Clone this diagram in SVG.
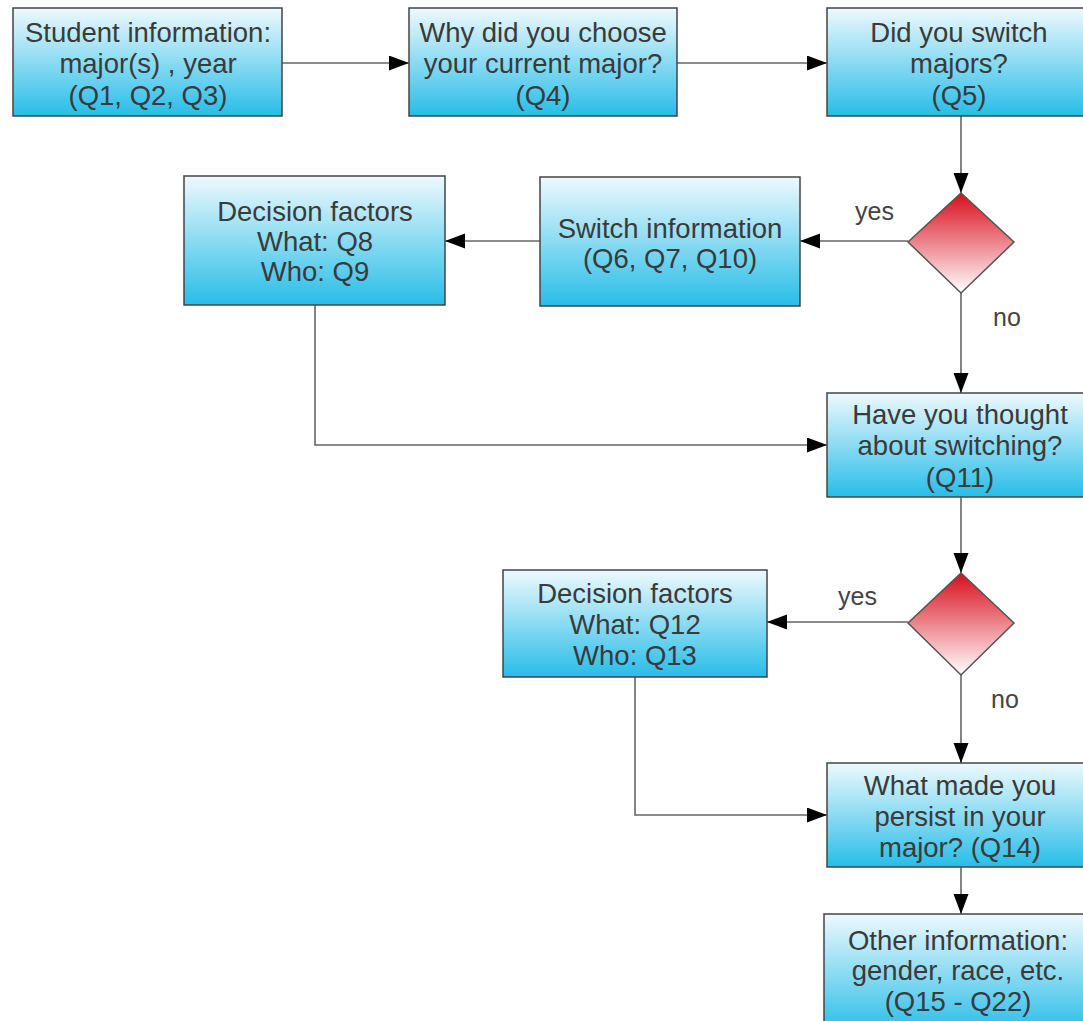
<svg xmlns="http://www.w3.org/2000/svg" width="1083" height="1021" viewBox="0 0 1083 1021">
<defs>
<linearGradient id="gb" x1="0" y1="0" x2="0" y2="1">
<stop offset="0" stop-color="#eef9fd"/>
<stop offset="1" stop-color="#27bde8"/>
</linearGradient>
<linearGradient id="gr" x1="0" y1="0" x2="0" y2="1">
<stop offset="0" stop-color="#d80d1c"/>
<stop offset="1" stop-color="#ffffff"/>
</linearGradient>
<marker id="ah" markerUnits="userSpaceOnUse" markerWidth="22" markerHeight="16" refX="20" refY="7.5" orient="auto">
<path d="M0,0 L20,7.5 L0,15 Z" fill="#000"/>
</marker>
</defs>
<style>
.box{fill:url(#gb);stroke:#444;stroke-width:1.5}
.dia{fill:url(#gr);stroke:#555;stroke-width:1.5}
.t{font-family:"Liberation Sans",Arial,sans-serif;font-size:27.5px;fill:#3a3a3a;text-anchor:middle}
.lbl{font-family:"Liberation Sans",Arial,sans-serif;font-size:25px;fill:#444}
.c{fill:none;stroke:#666;stroke-width:1.6}
.ca{fill:none;stroke:#666;stroke-width:1.6;marker-end:url(#ah)}
</style>
<rect width="1083" height="1021" fill="#fff"/>
<g id="connectors">
<line class="ca" x1="282" y1="63" x2="409" y2="63"/>
<line class="ca" x1="677" y1="63" x2="827" y2="63"/>
<line class="ca" x1="961" y1="116" x2="961" y2="193"/>
<line class="ca" x1="908" y1="241" x2="800" y2="241"/>
<line class="ca" x1="540" y1="241" x2="445" y2="241"/>
<line class="ca" x1="961" y1="293" x2="961" y2="393"/>
<polyline class="ca" points="315,305 315,445 827,445"/>
<line class="ca" x1="961" y1="497" x2="961" y2="573"/>
<line class="ca" x1="908" y1="622" x2="767" y2="622"/>
<line class="ca" x1="961" y1="675" x2="961" y2="763"/>
<polyline class="ca" points="635,677 635,815 827,815"/>
<line class="ca" x1="961" y1="867" x2="961" y2="914"/>
<text class="lbl" x="855" y="220">yes</text>
<text class="lbl" x="993" y="326">no</text>
<text class="lbl" x="838" y="605">yes</text>
<text class="lbl" x="991" y="708">no</text>
</g>
<g id="n1"><rect class="box" x="13" y="8" width="269" height="108"/>
<text class="t" x="148" y="42">Student information:</text>
<text class="t" x="148" y="73">major(s) , year</text>
<text class="t" x="148" y="105">(Q1, Q2, Q3)</text></g>
<g id="n2"><rect class="box" x="409" y="8" width="268" height="108"/>
<text class="t" x="543" y="42">Why did you choose</text>
<text class="t" x="543" y="73">your current major?</text>
<text class="t" x="543" y="105">(Q4)</text></g>
<g id="n3"><rect class="box" x="827" y="8" width="266" height="108"/>
<text class="t" x="959" y="42">Did you switch</text>
<text class="t" x="959" y="73">majors?</text>
<text class="t" x="959" y="105">(Q5)</text></g>
<g id="d1"><polygon class="dia" points="961,193 1014,242 961,293 908,242"/></g>
<g id="n4"><rect class="box" x="540" y="177" width="260" height="129"/>
<text class="t" x="670" y="238">Switch information</text>
<text class="t" x="670" y="268">(Q6, Q7, Q10)</text></g>
<g id="n5"><rect class="box" x="184" y="176" width="261" height="129"/>
<text class="t" x="315" y="221">Decision factors</text>
<text class="t" x="315" y="251">What: Q8</text>
<text class="t" x="315" y="281">Who: Q9</text></g>
<g id="n6"><rect class="box" x="827" y="393" width="266" height="104"/>
<text class="t" x="960" y="424">Have you thought</text>
<text class="t" x="960" y="455">about switching?</text>
<text class="t" x="960" y="487">(Q11)</text></g>
<g id="d2"><polygon class="dia" points="961,573 1014,623 961,675 908,623"/></g>
<g id="n7"><rect class="box" x="503" y="570" width="264" height="107"/>
<text class="t" x="635" y="603">Decision factors</text>
<text class="t" x="635" y="634">What: Q12</text>
<text class="t" x="635" y="665">Who: Q13</text></g>
<g id="n8"><rect class="box" x="827" y="763" width="266" height="104"/>
<text class="t" x="960" y="795">What made you</text>
<text class="t" x="960" y="826">persist in your</text>
<text class="t" x="960" y="857">major? (Q14)</text></g>
<g id="n9"><rect class="box" x="824" y="914" width="268" height="120"/>
<text class="t" x="958" y="950">Other information:</text>
<text class="t" x="958" y="980">gender, race, etc.</text>
<text class="t" x="958" y="1011">(Q15 - Q22)</text></g>
</svg>
